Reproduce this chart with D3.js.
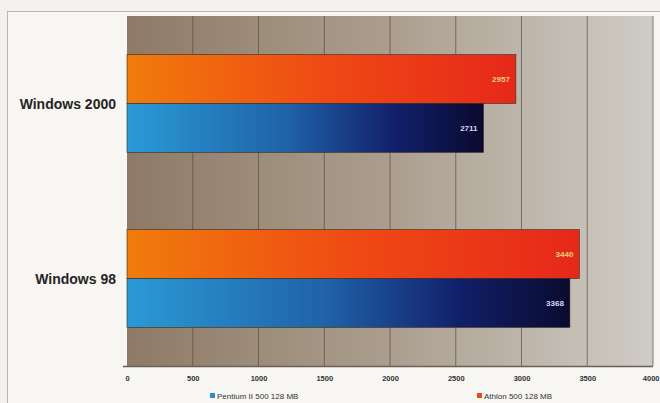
<!DOCTYPE html>
<html><head><meta charset="utf-8">
<script src="https://cdn.jsdelivr.net/npm/d3@7"></script>
<style>body{margin:0;background:#f3f1ee;}svg{display:block;}</style>
</head><body>
<svg id="c" width="660" height="403"></svg>
<script>
const categories = ["Windows 2000", "Windows 98"];
const seriesNames = ["Athlon 500 128 MB", "Pentium II 500 128 MB"];
const athlon = [2957, 3440];
const pentium = [2711, 3368];
const ticks = [0, 500, 1000, 1500, 2000, 2500, 3000, 3500, 4000];

const svg = d3.select("#c");
const W = 660, H = 403;
const m = {l:127, r:7, t:16, b:37};
const x = d3.scaleLinear().domain([0, 4000]).range([m.l, W - m.r]);
const y = d3.scaleBand().domain(categories).range([m.t, H - m.b]);
const inner = d3.scaleBand().domain(seriesNames).range([0, y.bandwidth()]).paddingInner(0).paddingOuter(0.79);

const defs = svg.append("defs");
function grad(id, stops){
  const g = defs.append("linearGradient").attr("id", id).attr("x1","0").attr("x2","1").attr("y1","0").attr("y2","0");
  stops.forEach(s => g.append("stop").attr("offset", s[0]).attr("stop-color", s[1]));
}
grad("bg", [[0,"#8e7a66"],[0.5,"#ab9e8e"],[1,"#cfccc6"]]);
grad("og", [[0,"#f07c0c"],[0.5,"#ef4a14"],[1,"#e6281a"]]);
grad("bl", [[0,"#2a9ad6"],[0.45,"#1f62a8"],[0.75,"#12206a"],[1,"#0a0a30"]]);

// outer frame
svg.append("rect").attr("x",7.5).attr("y",11.5).attr("width",660).attr("height",400)
  .attr("fill","#f7f6f3").attr("stroke","#b9b6b0");

// plot background
svg.append("rect").attr("x", x(0)).attr("y", m.t).attr("width", x(4000)-x(0)).attr("height", H-m.b-m.t)
  .attr("fill","url(#bg)");

// gridlines
svg.append("g").selectAll("line").data(ticks.slice(1)).join("line")
  .attr("x1", d=>x(d)).attr("x2", d=>x(d)).attr("y1", m.t).attr("y2", H-m.b)
  .attr("stroke","#5a4f45").attr("stroke-width",1).attr("opacity",0.7);

// baseline
svg.append("line").attr("x1", x(0)-4).attr("x2", x(4000)).attr("y1", H-m.b+0.5).attr("y2", H-m.b+0.5)
  .attr("stroke","#6a6055").attr("stroke-width",1.5);

// bars
const groups = [
  {name: seriesNames[0], vals: athlon, fill: "url(#og)", lab: "#f4d27a"},
  {name: seriesNames[1], vals: pentium, fill: "url(#bl)", lab: "#d8dcec"}
];
groups.forEach(s => {
  const g = svg.append("g");
  g.selectAll("rect").data(categories).join("rect")
    .attr("x", x(0)).attr("y", (c)=>y(c)+inner(s.name))
    .attr("width", (c,i)=>x(s.vals[i])-x(0)).attr("height", inner.bandwidth())
    .attr("fill", s.fill).attr("stroke","#3a2a20").attr("stroke-width",0.6);
  g.selectAll("text").data(categories).join("text")
    .attr("x", (c,i)=>x(s.vals[i])-6).attr("y", (c)=>y(c)+inner(s.name)+inner.bandwidth()/2+3)
    .attr("text-anchor","end").attr("font-family","Liberation Sans, Arial, sans-serif")
    .attr("font-size",8).attr("font-weight","bold").attr("fill", s.lab)
    .text((c,i)=>s.vals[i]);
});

// category labels
svg.append("g").selectAll("text").data(categories).join("text")
  .attr("x", 116).attr("y", c=>y(c)+y.bandwidth()/2+5)
  .attr("text-anchor","end").attr("font-family","Liberation Sans, Arial, sans-serif")
  .attr("font-size",14).attr("font-weight","bold").attr("fill","#262422")
  .text(c=>c);

// x axis
const ax = svg.append("g").attr("transform",`translate(0,${H-m.b})`)
  .call(d3.axisBottom(x).tickValues(ticks).tickSize(0).tickPadding(10).tickFormat(d3.format("d")));
ax.select(".domain").remove();
ax.selectAll("text").attr("font-family","Liberation Sans, Arial, sans-serif").attr("font-size",7.5)
  .attr("font-weight","bold").attr("fill","#333")
  .attr("text-anchor", d => d === 4000 ? "end" : "middle")
  .attr("dx", d => d === 4000 ? "6" : "0");

// legend
const leg = [
  {name: seriesNames[1], color:"#2a8fd0", x: 210},
  {name: seriesNames[0], color:"#ea4a14", x: 477}
];
const lg = svg.append("g").selectAll("g").data(leg).join("g").attr("transform", d=>`translate(${d.x},397)`);
lg.append("rect").attr("x",0).attr("y",-4).attr("width",5).attr("height",5).attr("fill", d=>d.color);
lg.append("text").attr("x",7).attr("y",1.5).attr("font-family","Liberation Sans, Arial, sans-serif")
  .attr("font-size",8).attr("fill","#333").text(d=>d.name);
</script>
</body></html>
